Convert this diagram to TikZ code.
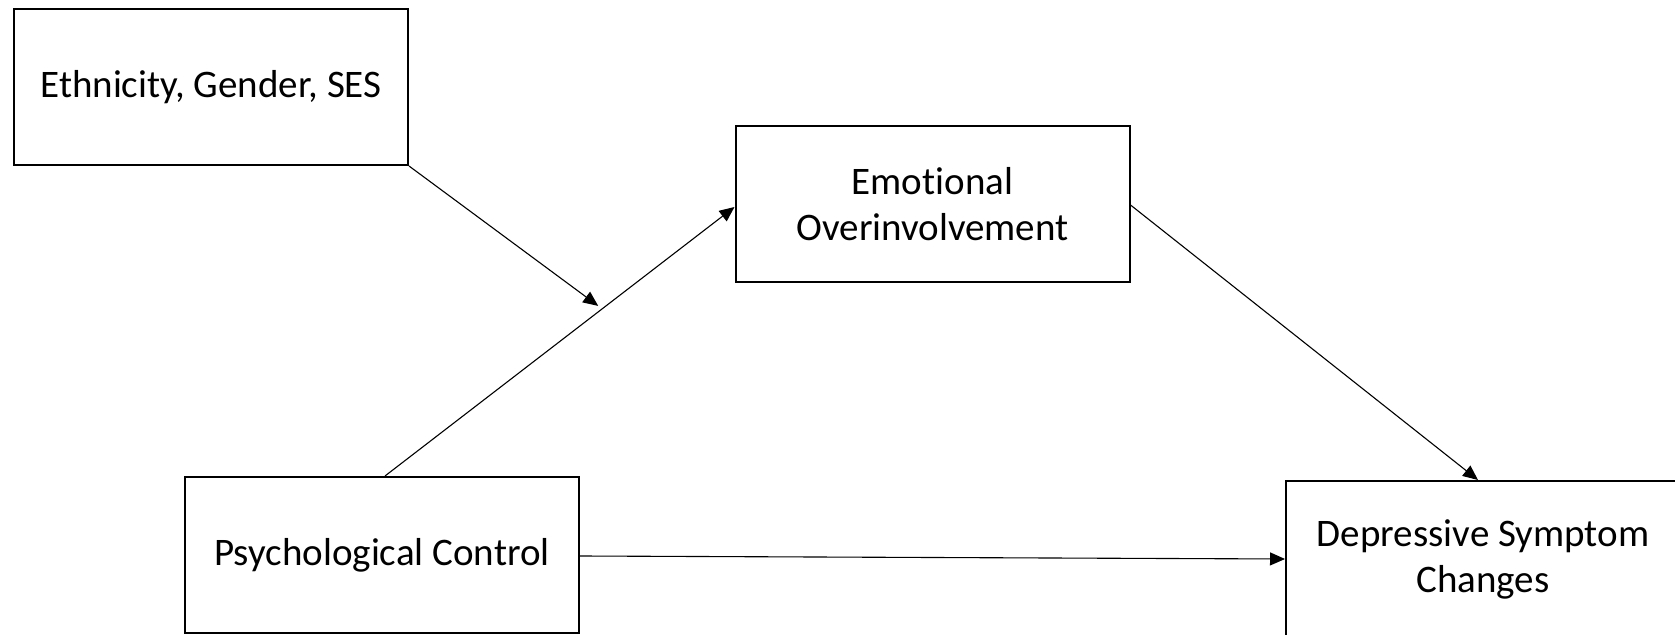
\documentclass[tikz,border=0pt]{standalone}
\usepackage{fontspec}
\setmainfont[Ligatures={NoCommon}]{Carlito}
\usetikzlibrary{arrows.meta,calc}
\begin{document}
\begin{tikzpicture}[x=0.5pt,y=-0.5pt,
  box/.style={draw,line width=1pt,minimum width=197pt,minimum height=78pt,align=center,inner sep=0pt,
    font=\fontsize{19.5}{23}\selectfont},
  conn/.style={line width=0.55pt,-{Triangle[length=7.5pt,width=6.5pt]}}]
\useasboundingbox (0,0) rectangle (1675,635);
\node[box] (eth) at (211,87) {Ethnicity, Gender, SES};
\node[box] (emo) at (932.5,204) {Emotional\\Overinvolvement};
\node[box] (psy) at (382,555) {Psychological Control};
\node[box] (dep) at (1483,559) {Depressive Symptom\\Changes};
\draw[conn] ($(psy.north)+(3,0)$) -- ($(emo.west)+(0,3)$) coordinate[pos=0.61] (mid);
\draw[conn] (eth.south east) -- ($(mid)+(0,-6)$);
\draw[conn] ($(emo.east)+(0,1)$) -- ($(dep.north)+(-5,0)$);
\draw[conn] ($(psy.east)+(0,1)$) -- (dep.west);
\end{tikzpicture}
\end{document}
